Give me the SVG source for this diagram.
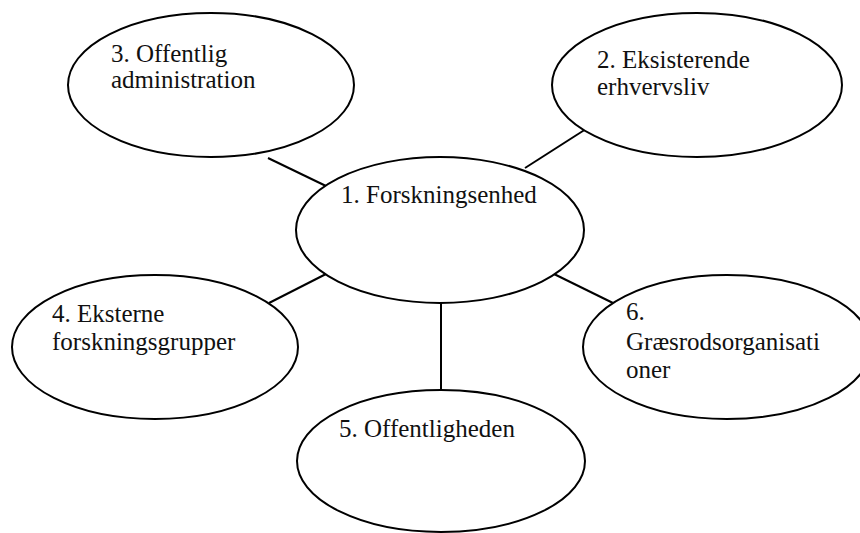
<svg xmlns="http://www.w3.org/2000/svg" width="860" height="533" viewBox="0 0 860 533">
  <style>
    .edge { stroke: #000; stroke-width: 2; fill: none; }
    .node ellipse { fill: #fff; stroke: #000; stroke-width: 2; }
    .node text { font-family: "Liberation Serif", "Times New Roman", serif; font-size: 25px; fill: #111; }
  </style>
  <rect width="860" height="533" fill="#fff"/>

  <!-- connectors between the central unit and its partners -->
  <g id="connectors">
    <line class="edge" x1="268" y1="158" x2="326" y2="186"/>
    <line class="edge" x1="586" y1="129" x2="525" y2="168"/>
    <line class="edge" x1="326" y1="274" x2="269" y2="303"/>
    <line class="edge" x1="554" y1="274" x2="613" y2="303"/>
    <line class="edge" x1="441" y1="302" x2="441" y2="391"/>
  </g>

  <g id="n1" class="node">
    <ellipse cx="440" cy="230" rx="144" ry="73"/>
    <text x="341" y="203">1. Forskningsenhed</text>
  </g>

  <g id="n2" class="node">
    <ellipse cx="697" cy="85" rx="145" ry="72"/>
    <text x="597" y="68">2. Eksisterende</text>
    <text x="597" y="95">erhvervsliv</text>
  </g>

  <g id="n3" class="node">
    <ellipse cx="211" cy="85" rx="143" ry="72"/>
    <text x="111" y="62">3. Offentlig</text>
    <text x="111" y="88">administration</text>
  </g>

  <g id="n4" class="node">
    <ellipse cx="155" cy="347" rx="143" ry="72"/>
    <text x="52" y="322">4. Eksterne</text>
    <text x="52" y="350">forskningsgrupper</text>
  </g>

  <g id="n5" class="node">
    <ellipse cx="441" cy="461" rx="144" ry="71"/>
    <text x="339" y="437">5. Offentligheden</text>
  </g>

  <g id="n6" class="node">
    <ellipse cx="727" cy="347" rx="144" ry="72"/>
    <text x="626" y="320">6.</text>
    <text x="626" y="350">Græsrodsorganisati</text>
    <text x="626" y="378">oner</text>
  </g>
</svg>
